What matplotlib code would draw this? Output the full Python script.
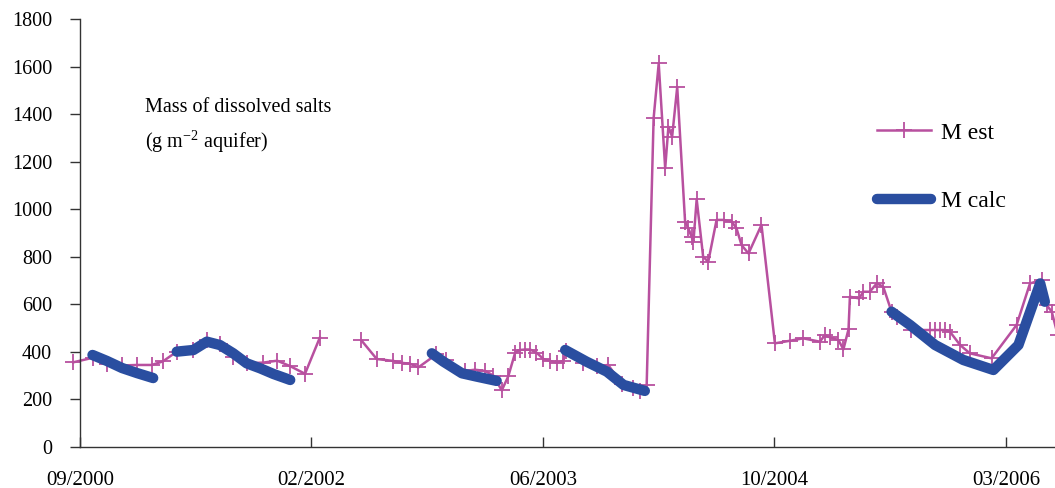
import numpy as np
import matplotlib
matplotlib.use("Agg")
import matplotlib.pyplot as plt

plt.rcParams['font.family'] = ['Liberation Serif', 'DejaVu Serif']
plt.rcParams['mathtext.fontset'] = 'stix'

# x = days after the 09/2000 tick, None = gap in the record
est_days = [-15, 27, 58, 90, 124, 155, 179, 209, 245, 274, 302, 331, 360, 396, 426, 454, 486, 518,
            None,
            608, 641, 677, 695, 713, 731, 770, 791, 831, 853, 875, 893, 911, 925, 940, 950, 961,
            972, 986, 1001, 1015, 1030, 1044, 1050, 1087, 1116, 1141, 1170, 1195, 1210, 1224,
            1239, 1250, 1264, 1271, 1279, 1290, 1307, 1314, 1321, 1325, 1332, 1346, 1357, 1375,
            1390, 1408, 1418, 1429, 1444, 1472, 1501, 1534, 1562, 1598, 1609, 1620, 1638, 1649,
            1660, 1663, 1683, 1692, 1706, 1721, 1735, 1753, 1764, 1796, 1836, 1847, 1858, 1868,
            1879, 1901, 1922, 1969, 2023, 2052, 2077, 2088, 2099, 2112]
est_mass = [356, 375, 350, 343, 345, 345, 360, 401, 408, 450, 432, 380, 352, 355, 363, 340, 308, 460,
            None,
            448, 370, 362, 354, 350, 335, 390, 365, 320, 325, 320, 300, 238, 297, 397, 408, 410,
            410, 397, 370, 362, 355, 362, 405, 355, 340, 345, 265, 250, 235, 260,
            1382, 1613, 1172, 1347, 1305, 1514, 947, 920, 884, 863, 1042, 800, 779, 955,
            955, 947, 920, 849, 814, 934, 436, 447, 457, 443, 471, 461, 450, 411,
            495, 632, 625, 653, 653, 688, 674, 569, 548, 492, 492, 492, 492, 492,
            485, 429, 394, 373, 513, 688, 702, 597, 569, 470]

calc_days = [27, 58, 91, 123, 158,
             None,
             209, 245, 274, 302, 331, 360, 389, 418, 454,
             None,
             760, 785, 825, 857, 900,
             None,
             1048, 1094, 1138, 1174, 1220,
             None,
             1753, 1793, 1847, 1908, 1973, 2027, 2074, 2084]
calc_mass = [387, 362, 332, 311, 290,
             None,
             401, 408, 443, 429, 394, 352, 331, 307, 282,
             None,
             394, 359, 310, 296, 278,
             None,
             408, 359, 317, 261, 236,
             None,
             569, 513, 429, 366, 324, 429, 688, 611]

tick_days = [0, 500, 1000, 1500, 2000]
tick_labels = ['09/2000', '02/2002', '06/2003', '10/2004', '03/2006']


def arr(values):
    return np.array([np.nan if v is None else v for v in values], dtype=float)


fig = plt.figure(figsize=(10.55, 4.88), dpi=100)
ax = fig.add_axes([80 / 1055, 41 / 488, 975 / 1055, 428 / 488])

magenta = '#B8509F'
blue = '#2A4EA0'

ax.plot(arr(est_days), arr(est_mass), color=magenta, lw=1.8, marker='+', ms=12, mew=1.3,
        label='M est', clip_on=False, zorder=2)
ax.plot(arr(calc_days), arr(calc_mass), color=blue, lw=7.5, solid_capstyle='round',
        solid_joinstyle='round', label='M calc', zorder=3)

ax.set_xlim(0, 2106)
ax.set_ylim(0, 1800)
ax.set_yticks(range(0, 1801, 200))
ax.set_xticks(tick_days)
ax.set_xticklabels(tick_labels)

for side in ['top', 'right']:
    ax.spines[side].set_visible(False)
for side in ['left', 'bottom']:
    ax.spines[side].set_color('#333333')
    ax.spines[side].set_linewidth(1.0)

ax.tick_params(axis='y', direction='out', length=7, width=1.0, color='#333333',
               labelsize=14.5, pad=13)
ax.tick_params(axis='x', direction='in', length=7, width=1.0, color='#333333',
               labelsize=15, pad=17)

fig.text(145 / 1055, 1 - 108 / 488, 'Mass of dissolved salts', fontsize=14.5, va='center')
fig.text(145 / 1055, 1 - 142 / 488, r'(g m$^{\mathregular{-2}}$ aquifer)', fontsize=14.5,
         va='center')

ax.legend(loc='upper left', bbox_to_anchor=(877 / 1055, 1 - 122 / 488),
          bbox_transform=fig.transFigure, frameon=False, fontsize=17, numpoints=1,
          handlelength=2.3, handletextpad=0.4, labelspacing=2.0, borderpad=0,
          borderaxespad=0)

fig.savefig('out.png', dpi=100)
